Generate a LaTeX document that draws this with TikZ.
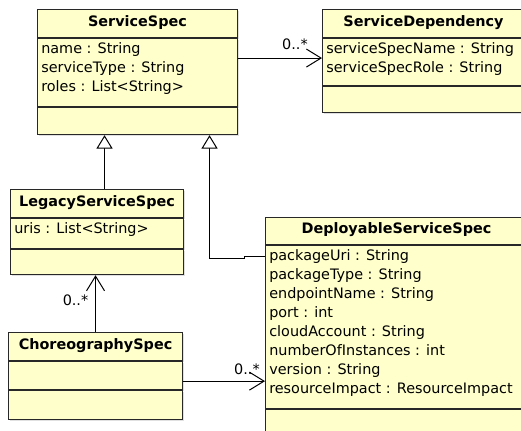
\documentclass[tikz,border=0pt]{standalone}
\usepackage{fontspec}
\setmainfont{DejaVu Sans}
\usetikzlibrary{arrows.meta,calc,positioning,shadows}

\definecolor{classfill}{RGB}{255,255,204}
\definecolor{classline}{RGB}{40,40,40}
\newcommand{\umlfont}{\fontsize{10.8pt}{14.25pt}\selectfont}

\tikzset{
  classtitle/.style={draw=classline, line width=0.8pt, fill=classfill, inner sep=0pt,
    font=\umlfont\bfseries, text height=7.6pt, text depth=3.6pt,
    drop shadow={shadow xshift=1.2pt, shadow yshift=-1.2pt, fill=black, opacity=0.12}},
  classpart/.style={draw=classline, line width=0.8pt, fill=classfill, inner sep=0pt,
    drop shadow={shadow xshift=1.2pt, shadow yshift=-1.2pt, fill=black, opacity=0.12}},
  members/.style={anchor=north west, align=left, inner xsep=3pt, inner ysep=3.4pt, font=\umlfont},
  mult/.style={inner sep=0pt, font=\umlfont},
  assoc/.style={draw, line width=0.75pt, -{Straight Barb[length=11pt, width=13.5pt]}},
  inherit/.style={draw, line width=0.75pt, -{Triangle[open, fill=white, width=12pt, length=10pt]}}
}

\begin{document}
\begin{tikzpicture}[x=0.75pt,y=0.75pt,yscale=-1,xscale=1]
\useasboundingbox (0,0) rectangle (521,431);
\clip (0,0) rectangle (521,431);

% ServiceSpec
\node[classtitle, minimum width=150pt, minimum height=21pt, anchor=north west] (ssT) at (37,9) {ServiceSpec};
\node[classpart, minimum width=150pt, minimum height=51pt, below=0pt of ssT] (ssA) {};
\node[classpart, minimum width=150pt, minimum height=20.25pt, below=0pt of ssA] (ssO) {};
\node[members] at (ssA.north west) {name : String\\serviceType : String\\roles : List<String>};

% ServiceDependency
\node[classtitle, minimum width=151.5pt, minimum height=21pt, anchor=north west] (sdT) at (322,9) {ServiceDependency};
\node[classpart, minimum width=151.5pt, minimum height=35.25pt, below=0pt of sdT] (sdA) {};
\node[classpart, minimum width=151.5pt, minimum height=19.5pt, below=0pt of sdA] (sdO) {};
\node[members] at (sdA.north west) {serviceSpecName : String\\serviceSpecRole : String};

% LegacyServiceSpec
\node[classtitle, minimum width=129.75pt, minimum height=21pt, anchor=north west] (lssT) at (10,189) {LegacyServiceSpec};
\node[classpart, minimum width=129.75pt, minimum height=22.5pt, below=0pt of lssT] (lssA) {};
\node[classpart, minimum width=129.75pt, minimum height=18.75pt, below=0pt of lssA] (lssO) {};
\node[members] at (lssA.north west) {uris : List<String>};

% ChoreographySpec
\node[classtitle, minimum width=130.5pt, minimum height=21pt, anchor=north west] (csT) at (8,332) {ChoreographySpec};
\node[classpart, minimum width=130.5pt, minimum height=21pt, below=0pt of csT] (csA) {};
\node[classpart, minimum width=130.5pt, minimum height=21.75pt, below=0pt of csA] (csO) {};

% DeployableServiceSpec
\node[classtitle, minimum width=196.5pt, minimum height=20.25pt, anchor=north west] (dssT) at (265,217) {DeployableServiceSpec};
\node[classpart, minimum width=196.5pt, minimum height=122.25pt, below=0pt of dssT] (dssA) {};
\node[classpart, minimum width=196.5pt, minimum height=30pt, below=0pt of dssA] (dssO) {};
\node[members] at (dssA.north west) {packageUri : String\\packageType : String\\endpointName : String\\port : int\\cloudAccount : String\\numberOfInstances : int\\version : String\\resourceImpact : ResourceImpact};

% generalizations
\coordinate (lssUp) at ($(lssT.north)+(7.5,0)$);
\draw[inherit] (lssUp) -- (lssUp |- ssO.south);
\coordinate (dssIn) at ($(dssA.north west)+(0,11)$);
\draw[inherit] (dssIn) -- ++(-21,0) -- ++(0,2) -| ($(ssO.south)+(72,0)$);

% associations
\coordinate (ssOut) at ($(ssA.north east)+(0,20)$);
\draw[assoc] (ssOut) -- (ssOut -| sdA.west);
\node[mult, anchor=south east] at ($(ssOut -| sdA.west)+(-14,-8)$) {0..*};

\draw[assoc] (csT.north) -- (csT.north |- lssO.south);
\node[mult, anchor=south east] at ($(csT.north |- lssO.south)+(-7,31)$) {0..*};

\coordinate (csOut) at ($(csA.south east)+(0,-9)$);
\draw[assoc] (csOut) -- (csOut -| dssA.west);
\node[mult, anchor=south east] at ($(csOut -| dssA.west)+(-5,-6)$) {0..*};

\end{tikzpicture}
\end{document}
